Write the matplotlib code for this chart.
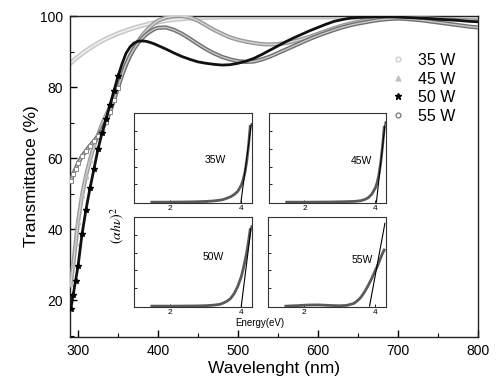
import numpy as np
import matplotlib
matplotlib.use('Agg')
from matplotlib import pyplot as plt
from matplotlib.ticker import MultipleLocator
from matplotlib.lines import Line2D

plt.rcParams['font.family'] = ['Liberation Sans', 'DejaVu Sans']

# main transmittance data
wl = [291, 294, 297, 300, 305, 310, 315, 320, 325, 330, 335, 340, 345, 350,
      355, 360, 365, 370, 375, 380, 385, 390, 395, 400,
      410, 420, 430, 440, 450, 460, 470, 480, 490, 500,
      510, 520, 530, 540, 550, 560, 570, 580, 590, 600,
      610, 620, 630, 640, 650, 660, 670, 680, 690, 700,
      710, 720, 730, 740, 750, 760, 770, 780, 790, 800]

t35 = [86.8, 87.4, 88.0, 88.5, 89.4, 90.2, 91.0, 91.7, 92.4, 93.0, 93.6, 94.1, 94.6, 95.1,
       95.5, 95.9, 96.3, 96.7, 97.0, 97.3, 97.6, 97.9, 98.1, 98.3,
       98.7, 99.0, 99.2, 99.4, 99.5, 99.6, 99.6, 99.7, 99.7, 99.7,
       99.7, 99.7, 99.7, 99.7, 99.7, 99.7, 99.7, 99.7, 99.7, 99.7,
       99.7, 99.7, 99.7, 99.7, 99.7, 99.7, 99.7, 99.7, 99.7, 99.7,
       99.7, 99.7, 99.7, 99.7, 99.7, 99.7, 99.6, 99.6, 99.6, 99.6]

t45 = [24.5, 30.0, 36.0, 42.0, 49.5, 55.0, 59.5, 63.5, 66.5, 69.5, 72.0, 74.5, 77.5, 80.5,
       83.5, 86.3, 88.8, 91.0, 92.9, 94.5, 95.8, 96.9, 97.9, 98.7,
       99.6, 100.0, 100.0, 99.6, 98.7, 97.4, 96.1, 95.0, 94.0, 93.3,
       92.8, 92.4, 92.1, 92.0, 92.1, 92.4, 92.9, 93.5, 94.2, 95.0,
       95.8, 96.6, 97.3, 97.9, 98.4, 98.8, 99.1, 99.3, 99.4, 99.5,
       99.5, 99.5, 99.4, 99.3, 99.2, 99.1, 99.0, 98.9, 98.8, 98.7]

t50 = [17.5, 21.5, 25.5, 29.5, 38.5, 45.5, 51.5, 57.0, 62.5, 67.0, 71.0, 75.0, 79.0, 83.0,
       86.5, 89.5, 91.3, 92.4, 92.9, 93.0, 92.9, 92.6, 92.2, 91.7,
       90.7, 89.6, 88.6, 87.8, 87.1, 86.7, 86.4, 86.2, 86.3, 86.7,
       87.3, 88.1, 89.2, 90.4, 91.6, 92.8, 93.9, 94.9, 95.9, 96.8,
       97.7, 98.5, 99.0, 99.4, 99.6, 99.7, 99.8, 99.8, 99.8, 99.7,
       99.6, 99.5, 99.4, 99.3, 99.1, 99.0, 98.9, 98.7, 98.5, 98.4]

t55 = [53.5, 55.5, 57.0, 58.5, 60.5, 62.0, 63.5, 64.8, 66.2, 68.0, 70.3, 73.0, 76.3, 79.8,
       83.3, 86.3, 88.8, 90.8, 92.4, 93.7, 94.8, 95.6, 96.3, 96.7,
       96.8, 96.1, 95.0, 93.6, 92.1, 90.7, 89.5, 88.5, 87.8, 87.3,
       87.1, 87.2, 87.8, 88.6, 89.6, 90.6, 91.6, 92.6, 93.6, 94.5,
       95.3, 96.1, 96.8, 97.4, 97.9, 98.3, 98.7, 99.0, 99.2, 99.3,
       99.2, 99.0, 98.8, 98.5, 98.2, 97.9, 97.6, 97.3, 97.0, 96.8]

labels = ['35 W', '45 W', '50 W', '55 W']

# inset Tauc plot data (normalised)
en = [1.5, 1.8, 2.1, 2.4, 2.7, 3.0, 3.2, 3.4, 3.5, 3.6, 3.7, 3.8, 3.9, 4.0,
      4.05, 4.1, 4.15, 4.2, 4.25]
a35 = [0.0, 0.0, 0.001, 0.002, 0.004, 0.008, 0.013, 0.022, 0.03, 0.045, 0.06,
       0.085, 0.12, 0.19, 0.25, 0.33, 0.45, 0.62, 0.85]
a45 = [0.0, 0.0, 0.0, 0.001, 0.002, 0.004, 0.006, 0.009, 0.012, 0.018, 0.03,
       0.05, 0.09, 0.16, 0.22, 0.31, 0.44, 0.62, 0.84]
a50 = [0.0, 0.0, 0.0, 0.001, 0.002, 0.005, 0.01, 0.02, 0.035, 0.055, 0.085,
       0.14, 0.22, 0.33, 0.41, 0.5, 0.6, 0.72, 0.86]
a55 = [0.0, 0.005, 0.012, 0.014, 0.008, 0.004, 0.008, 0.03, 0.06, 0.1, 0.16,
       0.23, 0.31, 0.4, 0.44, 0.49, 0.54, 0.59, 0.63]
fit_e = [[3.99, 4.28], [4.03, 4.28], [4.0, 4.28], [3.84, 4.27]]
fit_y = [[0.0, 0.88], [0.0, 0.90], [0.0, 0.90], [0.0, 0.93]]
inset_names = ['35W', '45W', '50W', '55W']

fig = plt.figure(figsize=(5.0, 3.92), dpi=100)
ax = fig.add_axes([0.14, 0.1403, 0.816, 0.8187])

steep = slice(0, 14)
ax.plot(wl, t35, color='#c8c8c8', lw=3.4, zorder=2)
ax.plot(wl, t35, color='#efefef', lw=1.2, zorder=2)
ax.plot(wl, t45, color='#999999', lw=3.0, zorder=3)
ax.plot(wl, t45, color='#d6d6d6', lw=1.0, zorder=3)
ax.plot(wl[steep], t45[steep], ls='none', marker='^', ms=3.0, color='#bdbdbd', zorder=3)
ax.plot(wl, t55, color='#707070', lw=3.0, zorder=4)
ax.plot(wl, t55, color='#c8c8c8', lw=1.0, zorder=4)
ax.plot(wl[steep], t55[steep], ls='none', marker='s', ms=3.0, mfc='white', mec='#8a8a8a', mew=0.7, zorder=4)
ax.plot(wl, t50, color='#111111', lw=2.0, zorder=5)
ax.plot(wl[steep], t50[steep], ls='none', marker='*', ms=4.0, color='black', zorder=5)

ax.set_xlim(290, 800)
ax.set_ylim(9.6, 100)
ax.xaxis.set_major_locator(MultipleLocator(100))
ax.xaxis.set_minor_locator(MultipleLocator(50))
ax.yaxis.set_major_locator(MultipleLocator(20))
ax.yaxis.set_minor_locator(MultipleLocator(10))
ax.set_yticks([20, 40, 60, 80, 100])
ax.tick_params(which='major', direction='in', length=5, width=1, labelsize=10, pad=5)
ax.tick_params(which='minor', direction='in', length=3, width=0.8)
for sp in ax.spines.values():
    sp.set_linewidth(1.0)
    sp.set_color('#222222')
ax.set_xlabel('Wavelenght (nm)', fontsize=12.5)
ax.set_ylabel('Transmittance (%)', fontsize=12.5)
ax.xaxis.set_label_coords(0.5, -0.075)
ax.yaxis.set_label_coords(-0.075, 0.5)

handles = [
    Line2D([], [], ls='none', marker='o', ms=3.5, mfc='none', mec='#cfcfcf'),
    Line2D([], [], ls='none', marker='^', ms=3.5, color='#c0c0c0'),
    Line2D([], [], ls='none', marker='*', ms=4.5, color='black'),
    Line2D([], [], ls='none', marker='o', ms=3.5, mfc='none', mec='#808080'),
]
fig.legend(handles, labels, loc='upper left', bbox_to_anchor=(390 / 500, 1 - 53 / 392),
           bbox_transform=fig.transFigure, frameon=False, fontsize=11.5,
           handlelength=1.0, handletextpad=0.75, labelspacing=0.22,
           borderpad=0, borderaxespad=0)

# insets
boxes = [[0.268, 0.482, 0.236, 0.2296], [0.538, 0.482, 0.234, 0.2296],
         [0.268, 0.2168, 0.236, 0.2296], [0.536, 0.2168, 0.236, 0.2296]]
curves = [a35, a45, a50, a55]
txt_pos = [(0.69, 0.48), (0.79, 0.47), (0.67, 0.56), (0.8, 0.52)]
for i, box in enumerate(boxes):
    ia = fig.add_axes(box)
    ia.plot(en, curves[i], color='#5a5a5a', lw=2.0)
    ia.plot(fit_e[i], fit_y[i], color='black', lw=0.8)
    ia.set_xlim(1.0, 4.3)
    ia.set_ylim(-0.01, 1.0)
    ia.set_xticks([2, 4])
    ia.xaxis.set_minor_locator(MultipleLocator(1))
    ia.set_yticks([0.2, 0.4, 0.6, 0.8])
    ia.set_yticklabels([])
    ia.tick_params(which='both', direction='in', length=2, width=0.6, labelsize=6, pad=1.5)
    ia.tick_params(which='minor', length=1.2)
    for sp in ia.spines.values():
        sp.set_linewidth(0.8)
        sp.set_color('#333333')
    ia.text(txt_pos[i][0], txt_pos[i][1], inset_names[i], transform=ia.transAxes,
            fontsize=7.5, ha='center', va='center')

fig.text(260 / 500, 1 - 323 / 392, 'Energy(eV)', fontsize=7, ha='center', va='center')
fig.text(118 / 500, 1 - 225 / 392, r'$(\alpha h\nu)^2$', fontsize=10, rotation=90,
         ha='center', va='center', math_fontfamily='stix')

fig.savefig('out.png', dpi=100)
